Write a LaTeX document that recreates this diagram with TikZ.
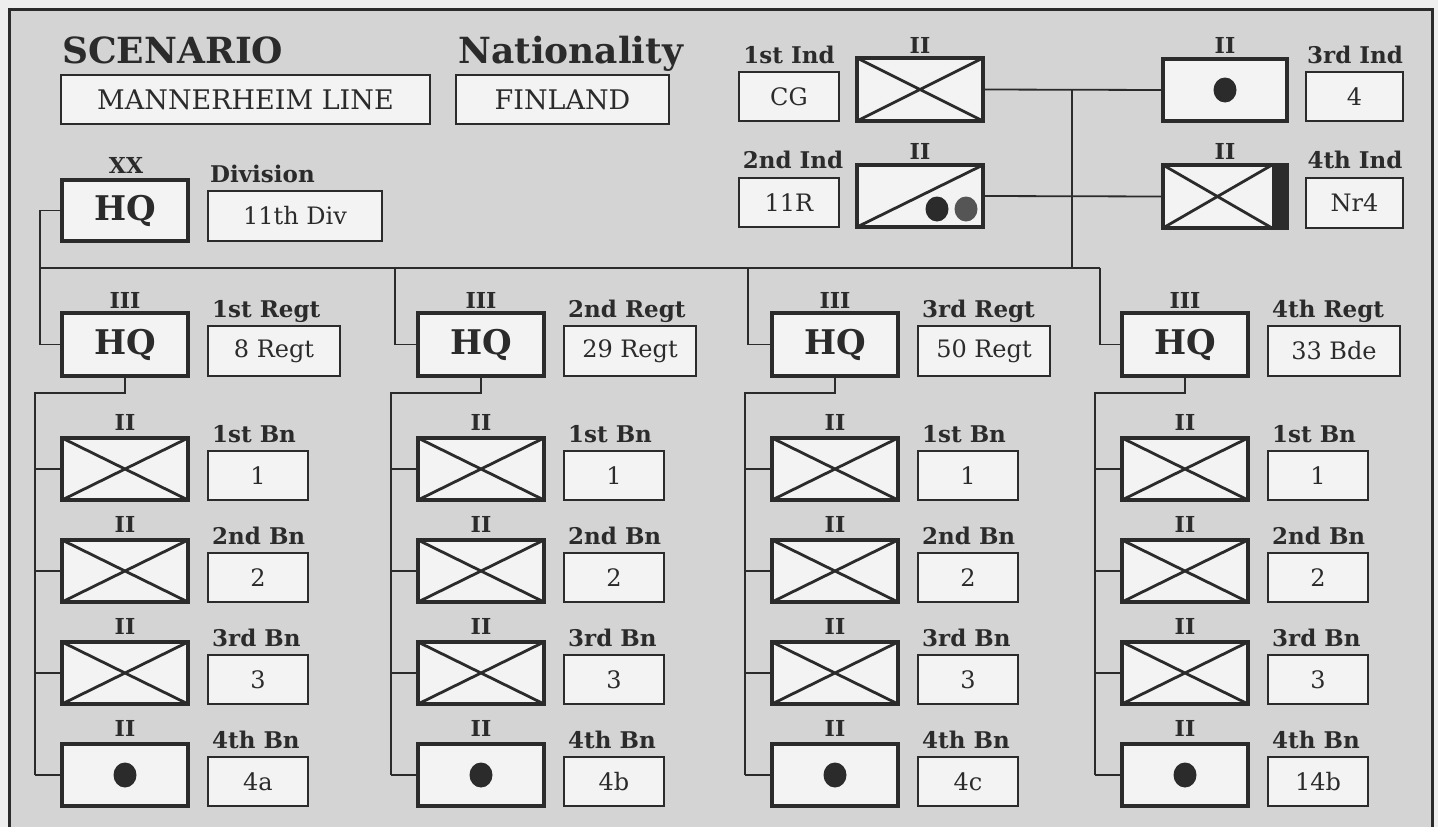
\documentclass[tikz,border=0pt]{standalone}
\usepackage{fontspec}
\setmainfont{DejaVu Serif}
\usetikzlibrary{calc}
\definecolor{bg}{HTML}{D4D4D4}
\definecolor{outbg}{HTML}{EEEEEE}
\definecolor{boxfill}{HTML}{F3F3F3}
\definecolor{lc}{HTML}{2B2B2B}
\definecolor{dot2}{HTML}{555555}
\begin{document}
\begin{tikzpicture}[x=1pt,y=-1pt,
  every node/.style={text=lc},
  unit/.style={draw=lc,line width=3.8pt,fill=boxfill,minimum width=126pt,minimum height=62pt,inner sep=0pt,outer sep=0pt,anchor=north west},
  tag/.style={draw=lc,line width=2.4pt,fill=boxfill,inner sep=0pt,outer sep=0pt,anchor=north west,minimum width=100pt,minimum height=49pt,font=\fontsize{24}{24}\selectfont},
  lbl/.style={font=\bfseries\fontsize{23}{23}\selectfont,anchor=base west,inner sep=0pt},
  ttl/.style={font=\bfseries\fontsize{36}{36}\selectfont,anchor=base west,inner sep=0pt},
  echelon/.style={font=\bfseries\fontsize{22}{22}\selectfont,inner sep=0pt},
  hqtxt/.style={font=\bfseries\fontsize{34}{34}\selectfont},
  conn/.style={draw=lc,line width=1.8pt},
  cross/.style={draw=lc,line width=2.8pt}]
\useasboundingbox (0,0) rectangle (1438,827);
\fill[outbg] (0,0) rectangle (1438,827);
\fill[bg] (9,9) rectangle (1432,850);
\draw[lc,line width=3pt] (9,850) -- (9,9) -- (1432,9) -- (1432,850);

% scenario
\node[ttl] (scen) at (62,63) {SCENARIO};
\node[tag,minimum width=369pt,font=\fontsize{27}{27}\selectfont] (mann) at (61,75) {MANNERHEIM LINE};
\node[ttl] (nat) at (458,63) {Nationality};
\node[tag,minimum width=213pt,font=\fontsize{27}{27}\selectfont] (fin) at (456,75) {FINLAND};

% division
\node[echelon] (xx) at (126,165) {XX};
\node[unit,minimum height=61pt,hqtxt] (divhq) at (62,180) {HQ};
\node[lbl] (divlbl) at (210,182) {Division};
\node[tag,minimum width=174pt,minimum height=50pt] (divname) at (208,191) {11th Div};

% independents
\node[lbl,anchor=base] (l1) at (789,63) {1st Ind};
\node[tag] (cg) at (739,72) {CG};
\node[unit,minimum height=63pt] (ind1) at (857,58) {};
\draw[cross] (ind1.north west) -- (ind1.south east) (ind1.south west) -- (ind1.north east);
\node[echelon] (e1) at (920,45) {II};

\node[lbl,anchor=base] (l2) at (793,168) {2nd Ind};
\node[tag] (r11) at (739,178) {11R};
\node[unit] (ind2) at (857,165) {};
\draw[cross] (ind2.south west) -- (ind2.north east);
\fill[lc] (937,209) ellipse[x radius=11.5,y radius=12.5];
\fill[dot2] (966,209) ellipse[x radius=11.5,y radius=12.5];
\node[echelon] (e2) at (920,151) {II};

\node[unit,minimum width=124pt] (ind3) at (1163,59) {};
\fill[lc] (ind3.center) ellipse[x radius=11.5,y radius=12.5];
\node[echelon] (e3) at (1225,45) {II};
\node[lbl,anchor=base] (l3) at (1355,63) {3rd Ind};
\node[tag,minimum width=97pt] (four) at (1306,72) {4};

\node[unit,minimum width=124pt,minimum height=63pt] (ind4) at (1163,165) {};
\fill[lc] ($(ind4.north east)+(-15,0)$) rectangle (ind4.south east);
\draw[lc,line width=3.8pt] (ind4.north west) rectangle (ind4.south east);
\draw[cross] (ind4.north west) -- ($(ind4.south east)+(-15,0)$) (ind4.south west) -- ($(ind4.north east)+(-15,0)$);
\node[echelon] (e4) at (1225,151) {II};
\node[lbl,anchor=base] (l4) at (1355,168) {4th Ind};
\node[tag,minimum width=97pt,minimum height=50pt] (nr4) at (1306,178) {Nr4};

% connectors
\coordinate (busL) at (40,268);
\coordinate (busR) at (1100,268);
\coordinate (jn) at (1072,268);
\draw[conn] (ind1.east) -- (ind3.west);
\draw[conn] (ind2.east) -- (ind4.west);
\draw[conn] (busL) -- (busR);
\draw[conn] (jn) -- (jn |- ind1.east);
\draw[conn] (divhq.west) -| (busL);

% regiments
\foreach \c/\x/\rname/\rtxt/\ba/\bb/\bc/\bd/\dx in
  {1/62/1st Regt/8 Regt/1/2/3/4a/40,
   2/418/2nd Regt/29 Regt/1/2/3/4b/395,
   3/772/3rd Regt/50 Regt/1/2/3/4c/748,
   4/1122/4th Regt/33 Bde/1/2/3/14b/1100}{
  \node[echelon] (r\c e) at (\x+63,300) {III};
  \node[unit,minimum height=63pt,hqtxt] (hq\c) at (\x,313) {HQ};
  \node[lbl] (r\c l) at (\x+150,317) {\rname};
  \node[tag,minimum width=132pt,minimum height=50pt] (rt\c) at (\x+146,326) {\rtxt};
  \coordinate (drop\c) at (\dx,268);
  \draw[conn] (drop\c) |- (hq\c.west);
  \foreach \r/\T/\bl/\bt in {1/438/1st Bn/\ba, 2/540/2nd Bn/\bb, 3/642/3rd Bn/\bc, 4/744/4th Bn/\bd}{
    \node[unit] (bn\c\r) at (\x,\T) {};
    \node[echelon] (bn\c\r e) at (\x+63,\T-16) {II};
    \node[lbl] (bn\c\r l) at (\x+150,\T+4) {\bl};
    \node[tag] (bt\c\r) at (\x+146,\T+13) {\bt};
    \draw[conn] (bn\c\r.west) -- ++(-27,0);
    \ifnum\r<4
      \draw[cross] (bn\c\r.north west) -- (bn\c\r.south east) (bn\c\r.south west) -- (bn\c\r.north east);
    \else
      \fill[lc] (bn\c\r.center) ellipse[x radius=11.5,y radius=12.5];
    \fi
  }
  \draw[conn] (hq\c.south) -- ++(0,17) -| ($(bn\c4.west)+(-27,0)$);
}
\end{tikzpicture}
\end{document}
